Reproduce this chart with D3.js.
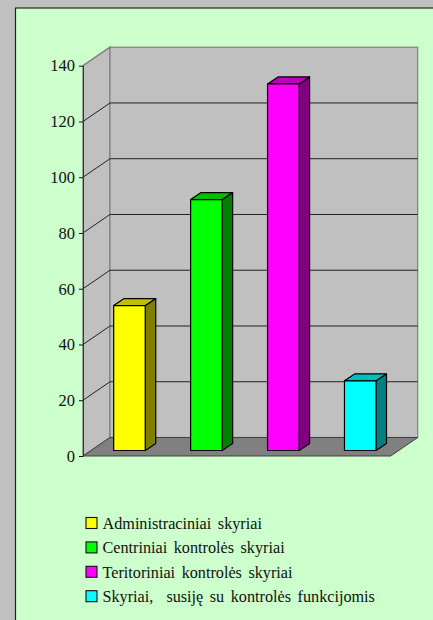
<!DOCTYPE html>
<html>
<head>
<meta charset="utf-8">
<script src="https://cdn.jsdelivr.net/npm/d3@7"></script>
<style>
  html, body { margin: 0; padding: 0; background: #c0c0c0; }
  svg { display: block; }
  text { font-family: "Liberation Serif", serif; fill: #111; }
</style>
</head>
<body>
<div id="chart"></div>
<script>
const categories = [
    "Administraciniai skyriai",
    "Centriniai kontrolės skyriai",
    "Teritoriniai kontrolės skyriai",
    "Skyriai,\u00a0\u00a0susiję su kontrolės funkcijomis"
];
const values = [52, 90, 131.5, 25];
const colors = ["#ffff00", "#00ff00", "#ff00ff", "#00ffff"];
const yTicks = [0, 20, 40, 60, 80, 100, 120, 140];

const svgWidth = 433;
const svgHeight = 620;

// front plane of the 3d box and its depth offset
const plot = { left: 83, right: 390.7, top: 65.7, bottom: 456 };
const depth = { x: 27, y: -18.5 };
// bars sit part way into the box
const barFront = { x: 8, y: -5.5 };
const barDepth = { x: 10.5, y: -7 };

// shade a face by multiplying the base colour
const shade = (color, k) => {
    const c = d3.rgb(color);
    return d3.rgb(c.r * k, c.g * k, c.b * k).formatHex();
};

const svg = d3.select("#chart")
    .append("svg")
    .attr("width", svgWidth)
    .attr("height", svgHeight);

// panel
svg.append("rect")
    .attr("x", 15.5)
    .attr("y", 8)
    .attr("width", svgWidth)
    .attr("height", svgHeight)
    .attr("fill", "#ccffcc")
    .attr("stroke", "#222")
    .attr("stroke-width", 1.2);

const yScale = d3.scaleLinear()
    .domain([0, 140])
    .range([plot.bottom, plot.top]);

const xScale = d3.scaleBand()
    .domain(categories)
    .range([plot.left, plot.right])
    .paddingInner(0.59)
    .paddingOuter(0.295);

const pts = arr => arr.map(p => p.join(",")).join(" ");

// side wall
svg.append("polygon")
    .attr("points", pts([
        [plot.left, plot.top],
        [plot.left + depth.x, plot.top + depth.y],
        [plot.left + depth.x, plot.bottom + depth.y],
        [plot.left, plot.bottom]
    ]))
    .attr("fill", "#c0c0c0")
    .attr("stroke", "#808080")
    .attr("stroke-width", 1.4);

// back wall
svg.append("rect")
    .attr("x", plot.left + depth.x)
    .attr("y", plot.top + depth.y)
    .attr("width", plot.right - plot.left)
    .attr("height", plot.bottom - plot.top)
    .attr("fill", "#c0c0c0")
    .attr("stroke", "#808080")
    .attr("stroke-width", 1.2);

// floor
svg.append("polygon")
    .attr("points", pts([
        [plot.left, plot.bottom],
        [plot.left + depth.x, plot.bottom + depth.y],
        [plot.right + depth.x, plot.bottom + depth.y],
        [plot.right, plot.bottom]
    ]))
    .attr("fill", "#808080")
    .attr("stroke", "#404040");

// gridlines, along the side wall and across the back
svg.append("g")
    .attr("fill", "none")
    .attr("stroke", "#222")
    .selectAll("polyline")
    .data(yTicks.filter(d => d > 0 && d < 140))
    .enter()
    .append("polyline")
    .attr("points", d => pts([
        [plot.left, yScale(d)],
        [plot.left + depth.x, yScale(d) + depth.y],
        [plot.right + depth.x, yScale(d) + depth.y]
    ]));

// y axis
const leftAxis = d3.axisLeft(yScale)
    .tickValues(yTicks)
    .tickSize(4)
    .tickPadding(4)
    .tickSizeOuter(0);

const yAxis = svg.append("g")
    .attr("transform", `translate(${plot.left}, 0)`)
    .call(leftAxis);
yAxis.select(".domain").attr("stroke", "#333");
yAxis.selectAll(".tick line").attr("stroke", "#111");
yAxis.selectAll("text")
    .attr("font-size", 16.5)
    .style("font-family", '"Liberation Serif", serif');

// bars: front, top and side faces
const bars = svg.append("g")
    .selectAll("g")
    .data(categories.map((c, i) => ({ name: c, value: values[i], color: colors[i] })))
    .enter()
    .append("g")
    .attr("stroke", "#000")
    .attr("stroke-width", 1.2)
    .attr("stroke-linejoin", "round");

const barLeft = d => xScale(d.name) + barFront.x;
const barRight = d => barLeft(d) + xScale.bandwidth();
const barTop = d => yScale(d.value) + barFront.y;
const barBase = barFront.y + plot.bottom;

bars.append("polygon")
    .attr("points", d => pts([
        [barRight(d), barTop(d)],
        [barRight(d) + barDepth.x, barTop(d) + barDepth.y],
        [barRight(d) + barDepth.x, barBase + barDepth.y],
        [barRight(d), barBase]
    ]))
    .attr("fill", d => shade(d.color, 0.5));

bars.append("polygon")
    .attr("points", d => pts([
        [barLeft(d), barTop(d)],
        [barLeft(d) + barDepth.x, barTop(d) + barDepth.y],
        [barRight(d) + barDepth.x, barTop(d) + barDepth.y],
        [barRight(d), barTop(d)]
    ]))
    .attr("fill", d => shade(d.color, 0.75));

bars.append("rect")
    .attr("x", barLeft)
    .attr("y", barTop)
    .attr("width", xScale.bandwidth())
    .attr("height", d => barBase - barTop(d))
    .attr("fill", d => d.color);

// legend
const legend = svg.append("g")
    .selectAll("g")
    .data(categories)
    .enter()
    .append("g")
    .attr("transform", (d, i) => `translate(86, ${517.5 + i * 24.4})`);

legend.append("rect")
    .attr("width", 11)
    .attr("height", 11)
    .attr("fill", (d, i) => colors[i])
    .attr("stroke", "#111")
    .attr("stroke-width", 1.1);

legend.append("text")
    .attr("x", 16.5)
    .attr("y", 11.5)
    .attr("font-size", 16.2)
    .attr("word-spacing", 2.5)
    .text(d => d);
</script>
</body>
</html>
